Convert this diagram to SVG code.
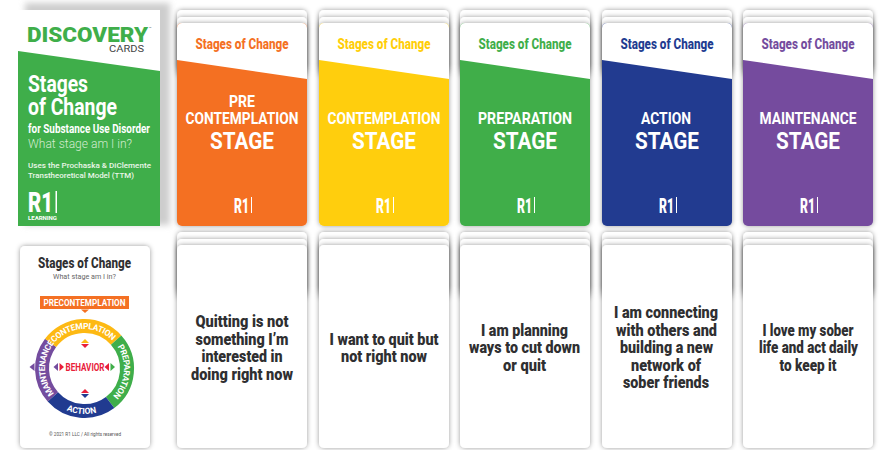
<svg xmlns="http://www.w3.org/2000/svg" xmlns:xlink="http://www.w3.org/1999/xlink" width="883" height="450" viewBox="0 0 883 450">
<style>
text{font-family:Roboto,"Liberation Sans",sans-serif;font-weight:700}
.m{text-anchor:middle}
.w{fill:#fff}
.d{fill:#2f2f31;font-size:16.5px;font-weight:900}
.back{fill:#fff;filter:url(#sh)}
.title{font-size:14.5px;font-weight:800}
.s1{fill:#fff;font-size:16.5px}
.s2{fill:#fff;font-size:24px}
.logo{fill:#fff;font-size:21px;font-weight:900}
.ring{fill:none;stroke-width:14}
.rt{fill:#fff;font-size:8.5px}
.bar{fill:#fff}
</style>
<defs>
<filter id="sh" x="-20%" y="-20%" width="140%" height="140%"><feDropShadow dx="0" dy="0" stdDeviation="2.500" flood-color="#000" flood-opacity=".4"/></filter>
<filter id="bl" x="-20%" y="-20%" width="140%" height="140%"><feGaussianBlur stdDeviation="3"/></filter>
<rect id="b1" class="back" width="130" height="60" rx="5"/>
<rect id="face" class="back" width="130" height="203" rx="5"/>
<path id="white" fill="#fff" d="M0 60V28a5 5 0 0 1 5-5H125a5 5 0 0 1 5 5V79Z"/>
<path id="pC" d="M50.3 348.75A39.5 39.5 0 0 1 116.85 345.84"/>
<path id="pP" d="M107.2 336.15A39.5 39.5 0 0 1 101.2 404.3"/>
<path id="pM" d="M64.75 402.7A39.5 39.5 0 0 1 64.75 334.3"/>
<path id="pA" d="M52.9 401.2A45.5 45.5 0 0 0 111.25 405.3"/>
</defs>

<g id="cover">
<rect x="25" y="3" width="145" height="222" fill="#cdcdcd" filter="url(#bl)"/>
<rect x="18" y="10" width="142" height="216" fill="#fff"/>
<path d="M18 51L160 71V226H18Z" fill="#3fae4a"/>
<text x="27" y="41.5" font-size="20" fill="#3fae4a" style="font-weight:900" textLength="121" lengthAdjust="spacingAndGlyphs">DISCOVERY</text>
<text x="149" y="30" font-size="4" fill="#555" style="font-weight:400">™</text>
<text x="109" y="52" font-size="9.5" fill="#444" style="font-weight:400" textLength="35" lengthAdjust="spacingAndGlyphs">CARDS</text>
<text x="28" y="92" font-size="23" class="w" textLength="60" lengthAdjust="spacingAndGlyphs">Stages</text>
<text x="28" y="115" font-size="23" class="w" textLength="89" lengthAdjust="spacingAndGlyphs">of Change</text>
<text x="28" y="132.5" font-size="12" class="w" textLength="122" lengthAdjust="spacingAndGlyphs">for Substance Use Disorder</text>
<text x="28" y="148" font-size="12.5" fill="#d3ecd0" style="font-weight:300" textLength="104" lengthAdjust="spacingAndGlyphs">What stage am I in?</text>
<text x="28" y="168" font-size="7.5" fill="#eaf6e8" style="font-weight:500" textLength="123" lengthAdjust="spacingAndGlyphs">Uses the Prochaska &amp; DiClemente</text>
<text x="28" y="178" font-size="7.5" fill="#eaf6e8" style="font-weight:500" textLength="106" lengthAdjust="spacingAndGlyphs">Transtheoretical Model (TTM)</text>
<text x="28" y="212" class="logo" style="font-size:28px" textLength="25" lengthAdjust="spacingAndGlyphs">R1</text>
<rect x="55.5" y="191" width="1.5" height="22" class="bar"/>
<text x="28" y="219.5" font-size="5.5" class="w" textLength="29" lengthAdjust="spacingAndGlyphs">LEARNING</text>
</g>

<g id="wheel-card">
<rect x="20" y="246" width="130" height="202" rx="5" class="back"/>
<text x="84.5" y="268" class="m" font-size="14.5" fill="#2f2f31" style="font-weight:800" textLength="93" lengthAdjust="spacingAndGlyphs">Stages of Change</text>
<text x="84.5" y="279" class="m" font-size="8" fill="#666" style="font-weight:400" textLength="63" lengthAdjust="spacingAndGlyphs">What stage am I in?</text>
<rect x="40" y="296" width="89" height="13" fill="#f47023"/>
<text x="84.5" y="306" class="m w" font-size="9.5" textLength="82" lengthAdjust="spacingAndGlyphs">PRECONTEMPLATION</text>
<path d="M81 309.500H89L85 313Z" fill="#f47023"/>
<path class="ring" stroke="#744c9e" d="M52.9 396.9A42.5 42.5 0 0 1 50.6 342.9"/>
<path class="ring" stroke="#fdb913" d="M50.6 342.9A42.5 42.5 0 0 1 116.1 340.1"/>
<path class="ring" stroke="#3fae4a" d="M116.1 340.1A42.5 42.5 0 0 1 110.100 402.500"/>
<path class="ring" stroke="#213b90" d="M110.100 402.500A42.5 42.5 0 0 1 52.9 396.9"/>
<text class="rt" letter-spacing="-.4"><textPath xlink:href="#pC" href="#pC" startOffset="50%" text-anchor="middle">CONTEMPLATION</textPath></text>
<text class="rt" letter-spacing="-.3"><textPath xlink:href="#pP" href="#pP" startOffset="50%" text-anchor="middle">PREPARATION</textPath></text>
<text class="rt" letter-spacing="-.5"><textPath xlink:href="#pM" href="#pM" startOffset="50%" text-anchor="middle">MAINTENANCE</textPath></text>
<text class="rt"><textPath xlink:href="#pA" href="#pA" startOffset="50%" text-anchor="middle">ACTION</textPath></text>
<text x="85" y="370.500" class="m" font-size="10" fill="#e8203a" textLength="39" lengthAdjust="spacingAndGlyphs">BEHAVIOR</text>
<path d="M81 343L85 339L89 343Z" fill="#fdb913"/><path d="M81 344H89L85 348Z" fill="#e8203a"/>
<path d="M81 393L85 389L89 393Z" fill="#e8203a"/><path d="M81 394H89L85 398Z" fill="#213b90"/>
<path d="M34.500 363V371L29.500 367Z" fill="#744c9e"/>
<path d="M58 363V371L53.500 367Z" fill="#744c9e"/><path d="M59.500 363V371L64 367Z" fill="#e8203a"/>
<path d="M109 363V371L104.500 367Z" fill="#e8203a"/><path d="M110.500 363V371L115 367Z" fill="#3fae4a"/>
<text x="85" y="436" class="m" font-size="4.6" fill="#555" style="font-weight:400" textLength="72" lengthAdjust="spacingAndGlyphs">© 2021 R1 LLC / All rights reserved</text>
</g>

<g id="stage-pre" transform="translate(177 0)">
<use href="#b1" y="10"/><use href="#b1" y="17"/>
<rect y="23" width="130" height="203" rx="5" fill="#f47023" filter="url(#sh)"/><use href="#white"/>
<text x="65" y="49" class="m title" fill="#f47023" textLength="93" lengthAdjust="spacingAndGlyphs">Stages of Change</text>
<text x="65" y="107" class="m s1" textLength="26" lengthAdjust="spacingAndGlyphs">PRE</text>
<text x="65" y="124" class="m s1" textLength="113" lengthAdjust="spacingAndGlyphs">CONTEMPLATION</text>
<text x="65" y="149" class="m s2" textLength="64" lengthAdjust="spacingAndGlyphs">STAGE</text>
<text x="57" y="213" class="logo" textLength="15" lengthAdjust="spacingAndGlyphs">R1</text><rect x="74" y="197" width="1" height="16" class="bar"/>
</g>
<g id="stage-contemplation" transform="translate(319 0)">
<use href="#b1" y="10"/><use href="#b1" y="17"/>
<rect y="23" width="130" height="203" rx="5" fill="#ffce08" filter="url(#sh)"/><use href="#white"/>
<text x="65" y="49" class="m title" fill="#ffce08" textLength="93" lengthAdjust="spacingAndGlyphs">Stages of Change</text>
<text x="65" y="124" class="m s1" textLength="113" lengthAdjust="spacingAndGlyphs">CONTEMPLATION</text>
<text x="65" y="149" class="m s2" textLength="64" lengthAdjust="spacingAndGlyphs">STAGE</text>
<text x="57" y="213" class="logo" textLength="15" lengthAdjust="spacingAndGlyphs">R1</text><rect x="74" y="197" width="1" height="16" class="bar"/>
</g>
<g id="stage-preparation" transform="translate(460 0)">
<use href="#b1" y="10"/><use href="#b1" y="17"/>
<rect y="23" width="130" height="203" rx="5" fill="#3fae4a" filter="url(#sh)"/><use href="#white"/>
<text x="65" y="49" class="m title" fill="#3fae4a" textLength="93" lengthAdjust="spacingAndGlyphs">Stages of Change</text>
<text x="65" y="124" class="m s1" textLength="94" lengthAdjust="spacingAndGlyphs">PREPARATION</text>
<text x="65" y="149" class="m s2" textLength="64" lengthAdjust="spacingAndGlyphs">STAGE</text>
<text x="57" y="213" class="logo" textLength="15" lengthAdjust="spacingAndGlyphs">R1</text><rect x="74" y="197" width="1" height="16" class="bar"/>
</g>
<g id="stage-action" transform="translate(602 0)">
<use href="#b1" y="10"/><use href="#b1" y="17"/>
<rect y="23" width="130" height="203" rx="5" fill="#213b90" filter="url(#sh)"/><use href="#white"/>
<text x="65" y="49" class="m title" fill="#213b90" textLength="93" lengthAdjust="spacingAndGlyphs">Stages of Change</text>
<text x="64" y="124" class="m s1" textLength="50" lengthAdjust="spacingAndGlyphs">ACTION</text>
<text x="65" y="149" class="m s2" textLength="64" lengthAdjust="spacingAndGlyphs">STAGE</text>
<text x="57" y="213" class="logo" textLength="15" lengthAdjust="spacingAndGlyphs">R1</text><rect x="74" y="197" width="1" height="16" class="bar"/>
</g>
<g id="stage-maintenance" transform="translate(743 0)">
<use href="#b1" y="10"/><use href="#b1" y="17"/>
<rect y="23" width="130" height="203" rx="5" fill="#744c9e" filter="url(#sh)"/><use href="#white"/>
<text x="65" y="49" class="m title" fill="#744c9e" textLength="93" lengthAdjust="spacingAndGlyphs">Stages of Change</text>
<text x="65" y="124" class="m s1" textLength="97" lengthAdjust="spacingAndGlyphs">MAINTENANCE</text>
<text x="65" y="149" class="m s2" textLength="64" lengthAdjust="spacingAndGlyphs">STAGE</text>
<text x="57" y="213" class="logo" textLength="15" lengthAdjust="spacingAndGlyphs">R1</text><rect x="74" y="197" width="1" height="16" class="bar"/>
</g>

<g id="statement-pre" transform="translate(177 0)">
<use href="#b1" y="232"/><use href="#b1" y="239"/><use href="#face" y="245"/>
<text x="65" y="327" class="m d" textLength="93" lengthAdjust="spacingAndGlyphs">Quitting is not</text>
<text x="65" y="344.500" class="m d" textLength="93" lengthAdjust="spacingAndGlyphs">something I’m</text>
<text x="65" y="362" class="m d" textLength="81" lengthAdjust="spacingAndGlyphs">interested in</text>
<text x="65" y="379.500" class="m d" textLength="102" lengthAdjust="spacingAndGlyphs">doing right now</text>
</g>
<g id="statement-contemplation" transform="translate(319 0)">
<use href="#b1" y="232"/><use href="#b1" y="239"/><use href="#face" y="245"/>
<text x="65" y="344.500" class="m d" textLength="109" lengthAdjust="spacingAndGlyphs">I want to quit but</text>
<text x="65" y="362" class="m d" textLength="86" lengthAdjust="spacingAndGlyphs">not right now</text>
</g>
<g id="statement-preparation" transform="translate(460 0)">
<use href="#b1" y="232"/><use href="#b1" y="239"/><use href="#face" y="245"/>
<text x="64.500" y="336" class="m d" textLength="87" lengthAdjust="spacingAndGlyphs">I am planning</text>
<text x="64.500" y="353" class="m d" textLength="111" lengthAdjust="spacingAndGlyphs">ways to cut down</text>
<text x="64.500" y="371" class="m d" textLength="43" lengthAdjust="spacingAndGlyphs">or quit</text>
</g>
<g id="statement-action" transform="translate(602 0)">
<use href="#b1" y="232"/><use href="#b1" y="239"/><use href="#face" y="245"/>
<text x="64" y="318" class="m d" textLength="104" lengthAdjust="spacingAndGlyphs">I am connecting</text>
<text x="64.500" y="336" class="m d" textLength="101" lengthAdjust="spacingAndGlyphs">with others and</text>
<text x="64.500" y="353" class="m d" textLength="93" lengthAdjust="spacingAndGlyphs">building a new</text>
<text x="64" y="371" class="m d" textLength="70" lengthAdjust="spacingAndGlyphs">network of</text>
<text x="64" y="388" class="m d" textLength="86" lengthAdjust="spacingAndGlyphs">sober friends</text>
</g>
<g id="statement-maintenance" transform="translate(743 0)">
<use href="#b1" y="232"/><use href="#b1" y="239"/><use href="#face" y="245"/>
<text x="65" y="336" class="m d" textLength="91" lengthAdjust="spacingAndGlyphs">I love my sober</text>
<text x="65.500" y="353" class="m d" textLength="99" lengthAdjust="spacingAndGlyphs">life and act daily</text>
<text x="65" y="371" class="m d" textLength="57" lengthAdjust="spacingAndGlyphs">to keep it</text>
</g>
<g id="connectors"/>
</svg>
